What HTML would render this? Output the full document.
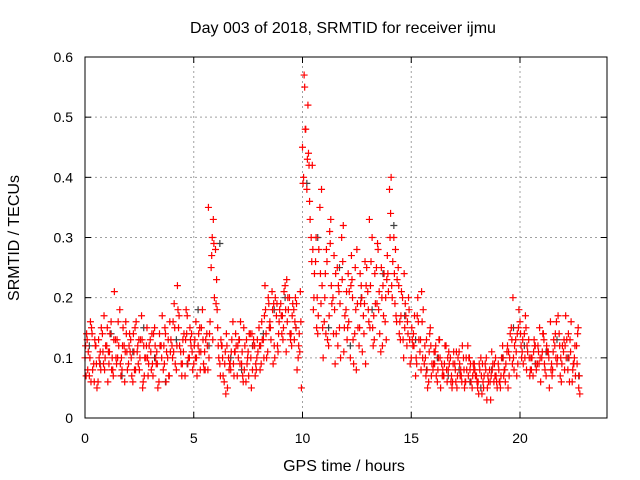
<!DOCTYPE html>
<html><head><meta charset="utf-8"><style>
html,body{margin:0;padding:0;background:#fff;}
svg{display:block;font-family:"Liberation Sans",sans-serif;}
</style></head><body>
<svg id="chart" width="640" height="480" viewBox="0 0 640 480">
<rect x="0" y="0" width="640" height="480" fill="#fff"/>
<text x="343" y="33" font-size="16" text-anchor="middle">Day 003 of 2018, SRMTID for receiver ijmu</text>
<text x="344" y="471" font-size="16" text-anchor="middle">GPS time / hours</text>
<text transform="translate(19,238) rotate(-90)" font-size="16" text-anchor="middle">SRMTID / TECUs</text>
<g id="grid"></g>
<g id="ticks"></g>
<g id="marks"></g>
<rect x="85" y="57" width="522" height="361" fill="none" stroke="#000" stroke-width="1"/>
</svg>
<script>
const xTicks=[0,5,10,15,20];
const yTicks=[0,0.1,0.2,0.3,0.4,0.5,0.6];
const yTickLabels=["0","0.1","0.2","0.3","0.4","0.5","0.6"];
const seriesAStart=0, seriesAStep=0.1;
const seriesA=[.10,.13,.07,.15,.09,.12,.06,.11,.14,.08,
.12,.09,.16,.07,.13,.10,.18,.08,.12,.14,
.09,.13,.06,.15,.11,.08,.17,.12,.10,.07,
.13,.09,.15,.11,.06,.12,.08,.14,.10,.16,
.12,.19,.08,.15,.11,.13,.07,.17,.10,.14,
.09,.16,.12,.08,.18,.11,.14,.10,.25,.33,
.28,.15,.09,.12,.06,.14,.10,.08,.16,.11,
.07,.13,.09,.15,.06,.11,.14,.08,.12,.10,
.15,.09,.13,.18,.11,.16,.21,.12,.17,.14,
.19,.13,.22,.16,.20,.12,.18,.15,.10,.21,
.45,.55,.38,.42,.30,.18,.26,.14,.35,.22,
.16,.28,.12,.33,.20,.09,.25,.15,.30,.11,
.18,.24,.10,.20,.14,.28,.12,.22,.17,.09,
.21,.15,.30,.13,.25,.18,.11,.22,.16,.27,
.38,.22,.30,.17,.25,.13,.20,.15,.12,.18,
.10,.14,.07,.20,.11,.16,.09,.13,.06,.12,
.08,.11,.06,.13,.09,.07,.12,.08,.10,.06,
.09,.05,.11,.07,.10,.06,.12,.08,.05,.09,
.07,.04,.10,.06,.09,.05,.08,.11,.06,.07,
.09,.05,.12,.08,.11,.07,.15,.10,.13,.09,
.16,.11,.14,.08,.13,.10,.07,.12,.09,.15,
.10,.13,.07,.11,.16,.08,.12,.09,.14,.06,
.11,.17,.08,.13,.06,.10,.12,.05];
const seriesBStart=0.05, seriesBStep=0.1;
const seriesB=[.07,.11,.16,.08,.13,.05,.10,.15,.09,.12,
.06,.14,.10,.21,.09,.12,.07,.15,.11,.08,
.14,.07,.11,.16,.09,.13,.05,.10,.15,.12,
.08,.14,.10,.05,.12,.17,.09,.11,.07,.13,
.16,.09,.22,.12,.07,.14,.18,.10,.13,.08,
.13,.07,.11,.15,.09,.13,.08,.16,.30,.20,
.23,.10,.13,.07,.11,.05,.09,.13,.07,.12,
.10,.16,.07,.12,.09,.14,.05,.13,.09,.11,
.08,.13,.17,.10,.19,.13,.09,.20,.12,.18,
.14,.21,.11,.18,.13,.19,.16,.08,.14,.05,
.40,.48,.52,.33,.42,.24,.15,.28,.19,.10,
.24,.13,.31,.19,.27,.14,.22,.10,.26,.17,
.13,.21,.27,.09,.18,.15,.24,.11,.19,.25,
.16,.26,.12,.19,.29,.14,.20,.24,.13,.21,
.34,.26,.19,.23,.14,.21,.10,.17,.14,.09,
.13,.17,.09,.13,.08,.18,.10,.05,.14,.09,
.11,.07,.10,.05,.08,.12,.06,.09,.07,.11,
.06,.10,.07,.12,.05,.08,.10,.06,.09,.07,
.05,.08,.04,.07,.10,.06,.03,.09,.07,.05,
.06,.10,.07,.09,.05,.14,.09,.12,.07,.18,
.12,.09,.17,.11,.07,.10,.13,.08,.11,.06,
.14,.08,.11,.05,.09,.13,.10,.17,.07,.12,
.08,.13,.10,.16,.09,.07,.14,.04];
const seriesDStart=0.025, seriesDStep=0.1;
const seriesD=[.12,.08,.10,.14,.06,.09,.13,.08,.11,.10,
.15,.11,.08,.13,.10,.16,.09,.12,.06,.11,
.12,.10,.14,.08,.12,.10,.13,.07,.12,.09,
.11,.07,.12,.09,.14,.10,.12,.06,.13,.11,
.10,.15,.12,.17,.09,.11,.13,.09,.15,.11,
.12,.10,.14,.11,.13,.08,.12,.14,.27,.29,
.19,.12,.07,.10,.09,.12,.08,.11,.09,.14,
.12,.09,.11,.08,.13,.07,.10,.12,.07,.13,
.12,.16,.10,.14,.20,.15,.18,.10,.19,.16,
.17,.15,.18,.20,.14,.17,.13,.19,.12,.16,
.39,.48,.43,.36,.26,.20,.30,.17,.24,.15,
.20,.26,.17,.22,.14,.24,.12,.19,.23,.15,
.21,.16,.22,.13,.25,.19,.15,.20,.14,.22,
.18,.22,.15,.24,.19,.21,.25,.17,.20,.24,
.30,.20,.24,.16,.22,.17,.13,.19,.16,.13,
.15,.12,.10,.16,.13,.10,.12,.08,.11,.07,
.09,.12,.08,.10,.07,.09,.08,.11,.06,.09,
.08,.07,.09,.06,.08,.10,.07,.09,.07,.08,
.06,.09,.07,.05,.08,.07,.06,.08,.09,.06,
.08,.07,.10,.06,.12,.10,.13,.08,.11,.15,
.14,.13,.10,.12,.10,.08,.11,.09,.12,.10,
.11,.09,.12,.10,.08,.11,.14,.10,.12,.09,
.13,.10,.14,.11,.08,.12,.09,.07];
const seriesCStart=0.075, seriesCStep=0.2;
const seriesC=[.14,.06,.12,.09,.17,.11,.08,.13,.10,.16,
.11,.08,.13,.06,.10,.14,.09,.12,.15,.07,
.11,.18,.09,.14,.12,.10,.15,.08,.35,.13,
.18,.12,.04,.09,.11,.13,.06,.10,.14,.08,
.12,.22,.15,.19,.11,.17,.23,.14,.20,.11,
.57,.44,.28,.20,.38,.14,.29,.18,.21,.32,
.15,.23,.08,.19,.26,.33,.17,.28,.12,.23,
.40,.28,.16,.24,.20,.12,.17,.21,.07,.15,
.09,.13,.07,.10,.05,.11,.08,.06,.10,.08,
.06,.09,.03,.07,.10,.06,.08,.11,.20,.14,
.10,.15,.08,.12,.09,.14,.11,.07,.16,.10,
.12,.06,.09,.15];
const seriesDarkStart=0.2, seriesDarkStep=0.5;
const seriesDark=[.12,.09,.14,.07,.11,.15,.10,.06,.13,.09,.18,.12,.29,.10,.08,.12,.14,.18,.20,.15,.39,.30,.15,.25,.12,.20,.18,.24,.32,.17,.13,.08,.10,.07,.08,.06,.05,.08,.10,.15,.12,.09,.11,.13,.10,.07];

const NS="http://www.w3.org/2000/svg";
const X0=85,X1=607,Y0=418,Y1=57;
function xs(v){return X0+v*(520-85)/20;}
function ys(v){return Y0-v*(Y0-Y1)/0.6;}
function mk(t,a){const e=document.createElementNS(NS,t);for(const k in a)e.setAttribute(k,a[k]);return e;}
const grid=document.getElementById('grid'),ticks=document.getElementById('ticks'),marks=document.getElementById('marks');
xTicks.forEach(v=>{
  const x=xs(v);
  if(v>0){const g=mk('line',{x1:x,y1:Y0,x2:x,y2:Y1,stroke:'#a0a0a0','stroke-dasharray':'2,3'});
  
  
  grid.appendChild(g);}
  const t=mk('line',{x1:x,y1:Y0,x2:x,y2:Y0-6,stroke:'#000'});
  
  
  ticks.appendChild(t);
  const t2=mk('line',{x1:x,y1:Y1,x2:x,y2:Y1+6,stroke:'#000'});
  
  
  ticks.appendChild(t2);
  const l=mk('text',{x:x,y:443,'font-size':14,'text-anchor':'middle'});l.textContent=String(v);
  
  
  ticks.appendChild(l);
});
yTicks.forEach((v,i)=>{
  const y=ys(v);
  if(v>0){const g=mk('line',{x1:X0,y1:y,x2:X1,y2:y,stroke:'#a0a0a0','stroke-dasharray':'2,3'});
  
  
  grid.appendChild(g);}
  const t=mk('line',{x1:X0,y1:y,x2:X0+6,y2:y,stroke:'#000'});
  
  
  ticks.appendChild(t);
  const t2=mk('line',{x1:X1,y1:y,x2:X1-6,y2:y,stroke:'#000'});
  
  
  ticks.appendChild(t2);
  const l=mk('text',{x:73,y:y+5,'font-size':14,'text-anchor':'end'});l.textContent=yTickLabels[i];
  
  
  ticks.appendChild(l);
});
function plot(arr,start,step,color,name){
  arr.forEach((v,i)=>{
    const x=xs(start+i*step),y=ys(v);
    const p=mk('path',{d:`M${x-3.5},${y}H${x+3.5}M${x},${y-3.5}V${y+3.5}`,stroke:color,'stroke-width':1.2,fill:'none'});
    
    
    marks.appendChild(p);
  });
}
plot(seriesDark,seriesDarkStart,seriesDarkStep,'#404040','dark-point');
plot(seriesA,seriesAStart,seriesAStep,'#ff0000','red-point');
plot(seriesB,seriesBStart,seriesBStep,'#ff0000','red-point');
plot(seriesD,seriesDStart,seriesDStep,'#ff0000','red-point');
plot(seriesC,seriesCStart,seriesCStep,'#ff0000','red-point');
</script>
</body></html>
